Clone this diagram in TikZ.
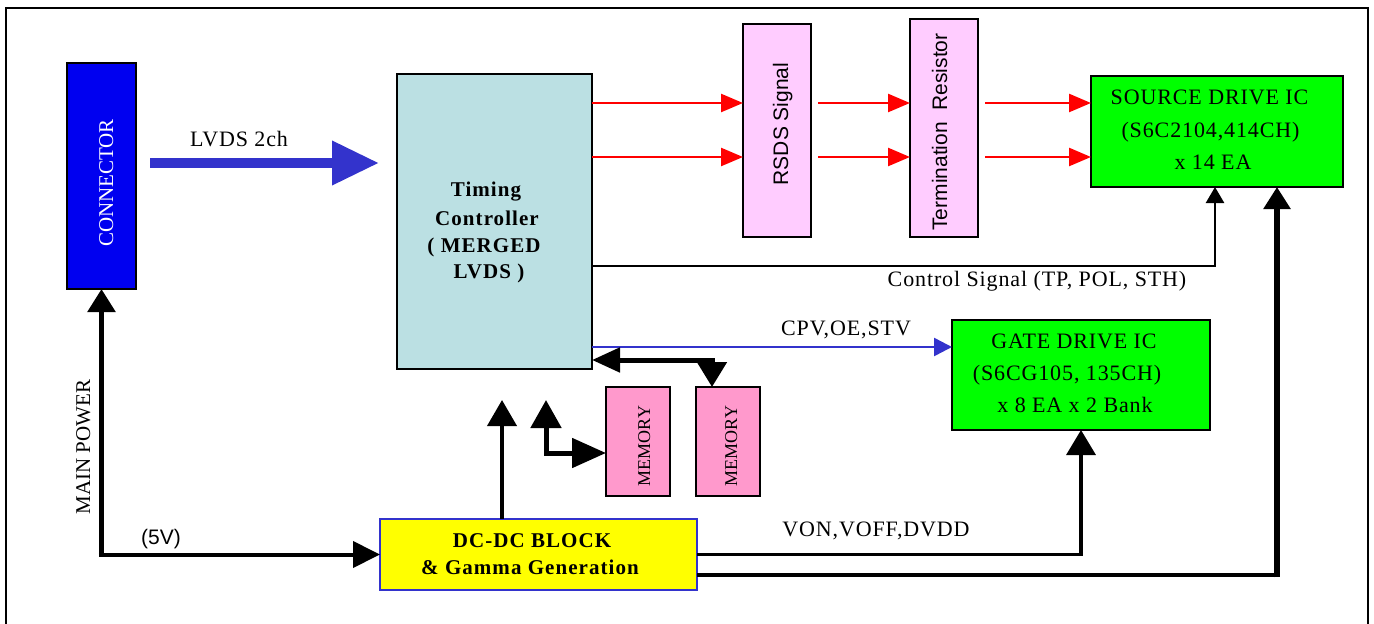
\documentclass[tikz,border=0pt]{standalone}
\usepackage{fontspec}
\setmainfont{Liberation Serif}
\setsansfont{Liberation Sans}
\newfontfamily\lsp[LetterSpace=4]{Liberation Serif}
\newfontfamily\bsp[LetterSpace=5]{Liberation Serif}
\newfontfamily\dsp[LetterSpace=5]{Liberation Serif}
\usetikzlibrary{arrows.meta,calc}
\newcommand\fsz[1]{\fontsize{#1bp}{#1bp}\selectfont}
\definecolor{lvdsblue}{RGB}{51,51,204}
\definecolor{connblue}{RGB}{0,0,240}
\definecolor{tconfill}{RGB}{187,224,227}
\definecolor{rsdsfill}{RGB}{255,204,255}
\definecolor{memfill}{RGB}{255,153,204}
\definecolor{icgreen}{RGB}{0,255,0}
\definecolor{dcyellow}{RGB}{255,255,0}
\definecolor{sigred}{RGB}{255,0,0}
\tikzset{
  box/.style={draw=black, line width=2bp, inner sep=0pt, outer sep=0pt},
  lbl/.style={inner sep=0pt, anchor=base, font=\lsp\fsz{22}},
  blbl/.style={inner sep=0pt, anchor=base, font=\bsp\bfseries\fsz{21}},
  dlbl/.style={inner sep=0pt, anchor=base, font=\dsp\bfseries\fsz{21}},
  vlbl/.style={inner sep=0pt, anchor=base, rotate=90},
  redarrow/.style={draw=sigred, line width=2.5bp, -{Triangle[length=22bp,width=18bp]}},
}
\begin{document}
\begin{tikzpicture}[x=1bp,y=-1bp]
\useasboundingbox (0,0) rectangle (1374,624);
\fill[white] (0,0) rectangle (1374,624);
% frame
\draw[line width=2.5bp] (6,624) -- (6,8) -- (1368,8) -- (1368,624);

% boxes
\node[box, fill=connblue, minimum width=69bp, minimum height=226bp] (conn) at (101.5,176) {};
\node[vlbl, text=white, font=\fsz{21}] (conntxt) at (113,183) {CONNECTOR};

\node[box, fill=tconfill, minimum width=195bp, minimum height=295bp] (tcon) at (494.5,221.5) {};
\node[blbl] (tc1) at (486,197) {Timing};
\node[blbl] (tc2) at (487,225) {Controller};
\node[blbl] (tc3) at (484,252) {( MERGED};
\node[blbl] (tc4) at (489,278) {LVDS )};

\node[box, fill=rsdsfill, minimum width=68bp, minimum height=213bp] (rsds) at (777,130.5) {};
\node[vlbl, font=\sffamily\fsz{21}] (rsdstxt) at (788,124) {RSDS Signal};

\node[box, fill=rsdsfill, minimum width=68bp, minimum height=218bp] (term) at (944,128) {};
\node[vlbl, font=\sffamily\fsz{21}] (termtxt) at (947,132) {Termination~~Resistor};

\node[box, fill=icgreen, minimum width=252bp, minimum height=111bp] (src) at (1217,131.5) {};
\node[lbl] (s1) at (1209.5,105) {SOURCE DRIVE IC};
\node[lbl] (s2) at (1210.5,138) {(S6C2104,414CH)};
\node[lbl] (s3) at (1213,170) {x 14 EA};

\node[box, fill=icgreen, minimum width=258bp, minimum height=110bp] (gate) at (1081,375) {};
\node[lbl] (g1) at (1074,348) {GATE DRIVE IC};
\node[lbl] (g2) at (1067,380) {(S6CG105, 135CH)};
\node[lbl] (g3) at (1075,412) {x 8 EA x 2 Bank};

\node[box, fill=memfill, minimum width=64bp, minimum height=109bp] (mem1) at (638,441.5) {};
\node[vlbl, font=\fsz{18}] (m1txt) at (650,446) {MEMORY};
\node[box, fill=memfill, minimum width=64bp, minimum height=109bp] (mem2) at (728,441.5) {};
\node[vlbl, font=\fsz{18}] (m2txt) at (737,446) {MEMORY};

\node[box, draw=lvdsblue, fill=dcyellow, minimum width=317bp, minimum height=71bp] (dcdc) at (538.5,554.5) {};
\node[dlbl] (d1) at (532,547) {DC-DC BLOCK};
\node[dlbl] (d2) at (530,574) {\& Gamma Generation};

% labels
\node[lbl] (lvdslbl) at (239,147) {LVDS 2ch};
\node[lbl] (ctrllbl) at (1037,286) {Control Signal (TP, POL, STH)};
\node[lbl] (cpvlbl) at (846,335) {CPV,OE,STV};
\node[lbl] (vonlbl) at (876,536) {VON,VOFF,DVDD};
\node[inner sep=0pt, anchor=base, font=\sffamily\fsz{21}] (fivev) at (161,544) {(5V)};
\node[vlbl, font=\fsz{21}] (mainpw) at (90,447) {MAIN POWER};

% LVDS big arrow
\coordinate (lv) at ($(conn.east)+(14,-13)$);
\draw[draw=lvdsblue, line width=10bp, -{Triangle[length=47bp,width=42bp]}] (lv) -- ($(lv -| tcon.west)+(-18,0)$);

% red signal arrows
\coordinate (ya) at (0,103);
\coordinate (yb) at (0,157);
\foreach \yy in {ya,yb} {
  \draw[redarrow] (tcon.east |- \yy) -- (rsds.west |- \yy);
  \draw[redarrow] ($(rsds.east |- \yy)+(7,0)$) -- (term.west |- \yy);
  \draw[redarrow] ($(term.east |- \yy)+(7,0)$) -- (src.west |- \yy);
}

% control signal
\coordinate (yc) at (0,266);
\draw[line width=2.5bp, -{Triangle[length=16bp,width=18bp]}] (tcon.east |- yc) -| ($(src.south)+(-2,0)$);

% power to source
\coordinate (srcpin) at ($(src.south)+(60,0)$);
\coordinate (dcout) at ($(dcdc.south east)+(0,-15)$);
\draw[line width=4.5bp] (dcout) -- (srcpin |- dcout);
\draw[line width=6.5bp, -{Triangle[length=22bp,width=26bp]}] ($(srcpin |- dcout)+(0,2.25)$) -- (srcpin);

% VON
\draw[line width=3.5bp, -{Triangle[length=25bp,width=29bp]}] (dcdc.east) -| (gate.south);

% CPV
\coordinate (ycpv) at (0,347);
\draw[draw=lvdsblue, line width=2.5bp, -{Triangle[length=18bp,width=18bp]}] (tcon.east |- ycpv) -- (gate.west |- ycpv);

% memory 2 double arrow
\coordinate (ymem) at (0,360);
\draw[line width=5bp, {Triangle[length=28bp,width=24bp]}-{Triangle[length=25bp,width=29bp]}] (tcon.east |- ymem) -| ($(mem2.north)+(-16,0)$);

% memory 1 arrow
\coordinate (m1a) at (546,400);
\draw[line width=5bp, {Triangle[length=28bp,width=30bp]}-{Triangle[length=34bp,width=29bp]}] (m1a) |- ($(mem1.west)+(0,11.5)$);

% DC-DC up
\coordinate (dcup) at (502,400);
\draw[line width=4bp, -{Triangle[length=26bp,width=29bp]}] ($(dcdc.north)+(-36.5,0)$) -- (dcup);

% main power
\coordinate (mp) at (101.5,554.5);
\draw[line width=5.5bp, -{Triangle[length=23bp,width=27bp]}] ($(mp)+(0,2)$) -- (conn.south);
\draw[line width=4bp, -{Triangle[length=27bp,width=26bp]}] ($(mp)+(-2.75,0)$) -- (dcdc.west);
\end{tikzpicture}
\end{document}
